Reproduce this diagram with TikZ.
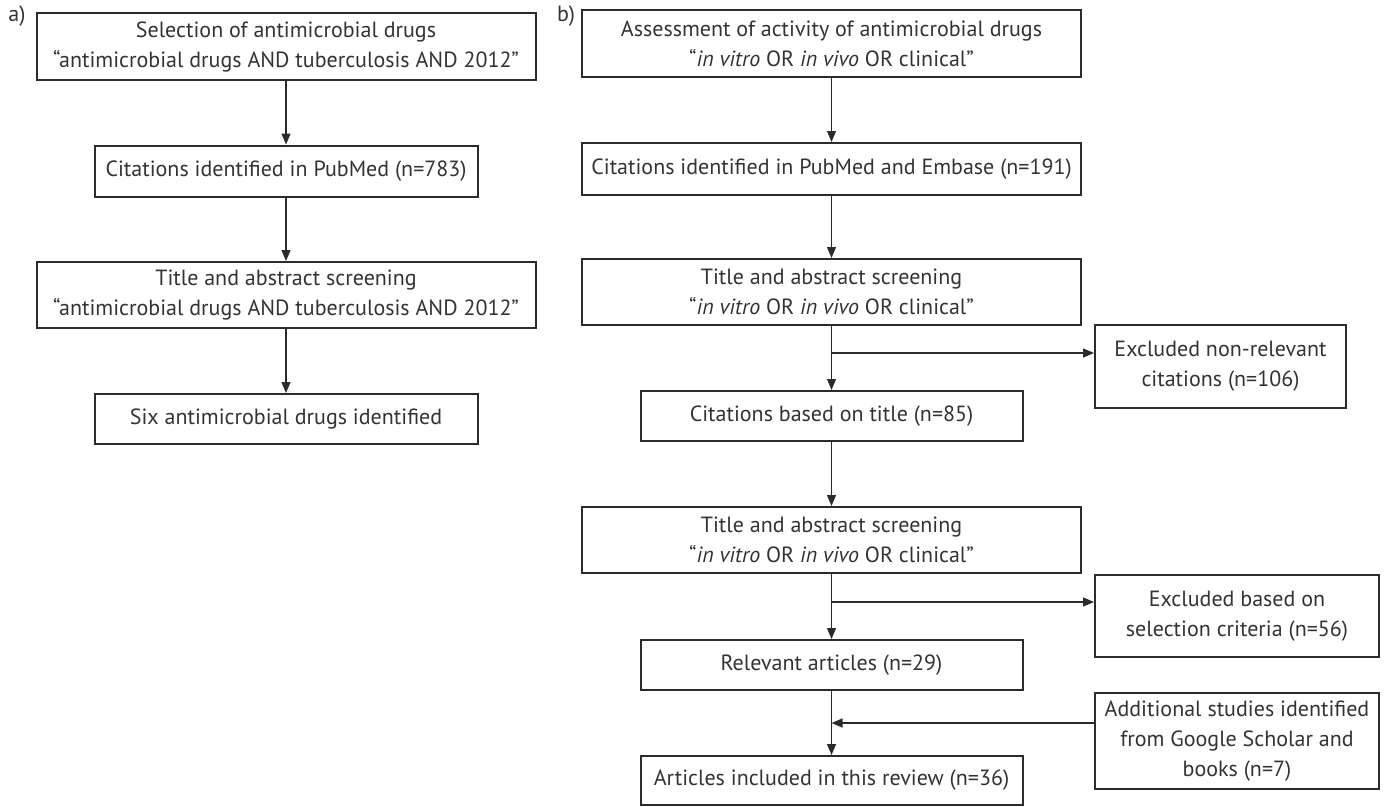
\documentclass[tikz,border=0pt]{standalone}
\usepackage{fontspec}
\setmainfont{PT Sans}
\usetikzlibrary{arrows.meta}
\definecolor{ink}{HTML}{2B2B2B}
\definecolor{txt}{HTML}{333333}
\begin{document}
\begin{tikzpicture}[x=1pt,y=-1pt,
  box/.style={draw=ink,line width=2pt,text=txt,align=center,inner sep=0pt,
    font=\fontsize{22}{30}\selectfont},
  arr/.style={draw=ink,line width=1.3pt,-{Triangle[length=11pt,width=9pt]}},
  lbl/.style={text=txt,font=\fontsize{22}{26}\selectfont,inner sep=0pt}]
\useasboundingbox (0,0) rectangle (1386,806);
% panel a
\node[lbl] (la) at (17,16) {a)};
\node[box,minimum width=499pt,minimum height=67pt] (A1) at (286,46.5)
  {Selection of antimicrobial drugs\\“antimicrobial drugs AND tuberculosis AND 2012”};
\node[box,minimum width=383pt,minimum height=51pt] (A2) at (286,171)
  {Citations identified in PubMed (n=783)};
\node[box,minimum width=499pt,minimum height=66pt] (A3) at (286,295)
  {Title and abstract screening\\“antimicrobial drugs AND tuberculosis AND 2012”};
\node[box,minimum width=383pt,minimum height=50pt] (A4) at (286,419)
  {Six antimicrobial drugs identified};
\draw[arr] (A1) -- (A2);
\draw[arr] (A2) -- (A3);
\draw[arr] (A3) -- (A4);
% panel b
\node[lbl] (lb) at (566,16) {b)};
\node[box,minimum width=499pt,minimum height=67pt] (B1) at (831.5,43.5)
  {Assessment of activity of antimicrobial drugs\\“\textit{in vitro} OR \textit{in vivo} OR clinical”};
\node[box,minimum width=499pt,minimum height=52pt] (B2) at (831.5,169)
  {Citations identified in PubMed and Embase (n=191)};
\node[box,minimum width=499pt,minimum height=66pt] (B3) at (831.5,292)
  {Title and abstract screening\\“\textit{in vitro} OR \textit{in vivo} OR clinical”};
\node[box,minimum width=251pt,minimum height=83pt] (E1) at (1220.5,366.5)
  {Excluded non-relevant\\citations (n=106)};
\node[box,minimum width=382pt,minimum height=50pt] (B4) at (831.5,416)
  {Citations based on title (n=85)};
\node[box,minimum width=499pt,minimum height=66pt] (B5) at (831.5,540)
  {Title and abstract screening\\“\textit{in vitro} OR \textit{in vivo} OR clinical”};
\node[box,minimum width=284pt,minimum height=82pt] (E2) at (1237,616)
  {Excluded based on\\selection criteria (n=56)};
\node[box,minimum width=382pt,minimum height=50pt] (B6) at (831.5,665)
  {Relevant articles (n=29)};
\node[box,minimum width=284pt,minimum height=96pt] (AD) at (1237,741)
  {Additional studies identified\\from Google Scholar and\\books (n=7)};
\node[box,minimum width=382pt,minimum height=49pt] (B7) at (831.5,780.5)
  {Articles included in this review (n=36)};
\coordinate (j1) at (831.5,353);
\coordinate (j2) at (831.5,602);
\coordinate (j3) at (831.5,723);
\draw[arr] (B1) -- (B2);
\draw[arr] (B2) -- (B3);
\draw[arr] (B3) -- (B4);
\draw[arr] (j1) -- (E1.west |- j1);
\draw[arr] (B4) -- (B5);
\draw[arr] (B5) -- (B6);
\draw[arr] (j2) -- (E2.west |- j2);
\draw[arr] (B6) -- (B7);
\draw[arr] (AD.west |- j3) -- (j3);
\end{tikzpicture}
\end{document}
